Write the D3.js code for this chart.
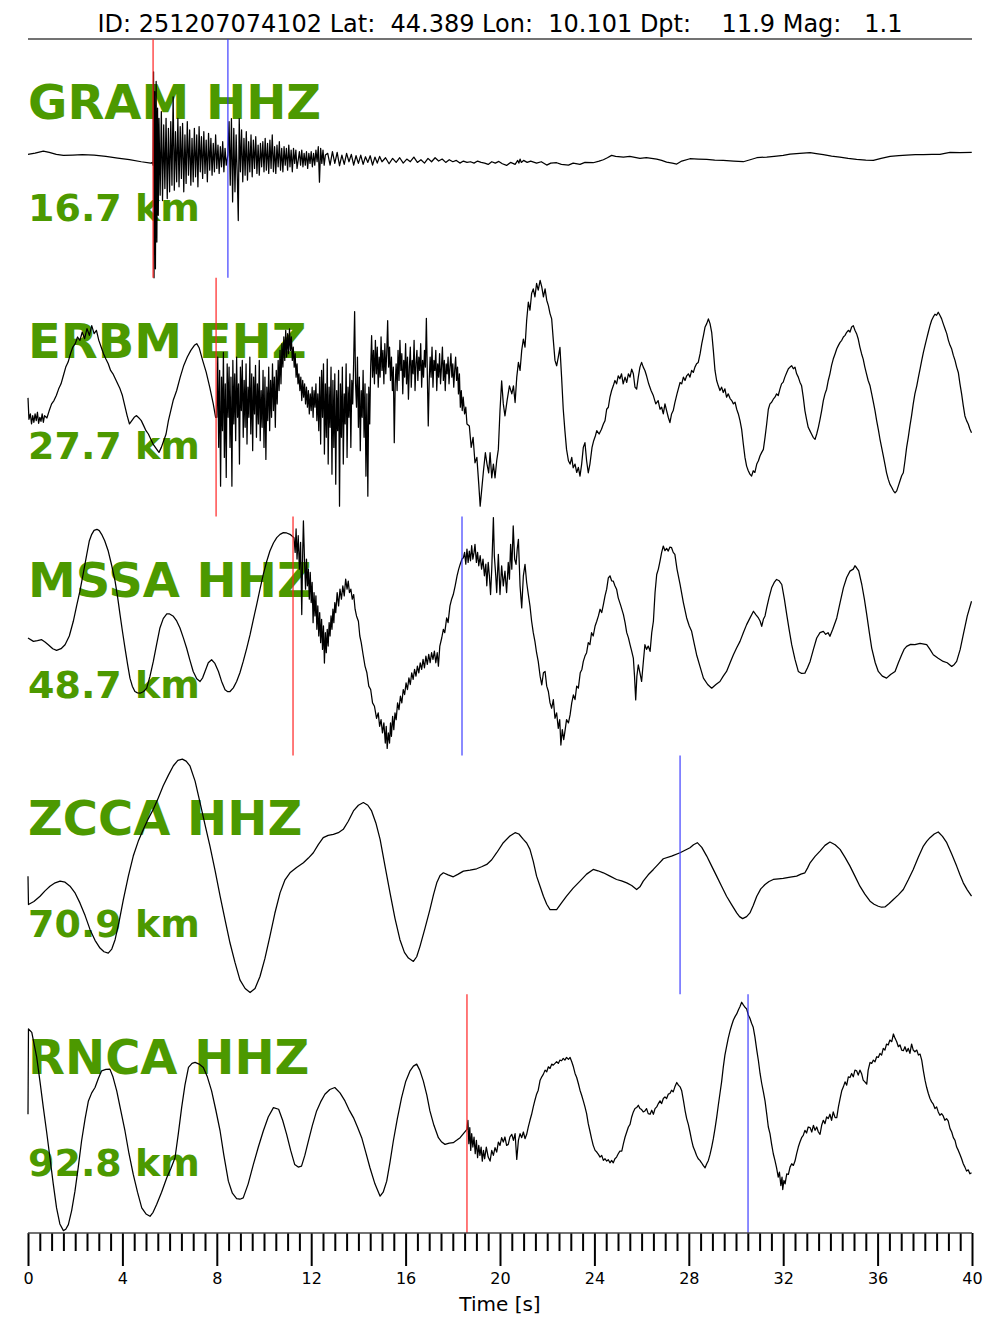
<!DOCTYPE html>
<html><head><meta charset="utf-8">
<script src="https://cdn.jsdelivr.net/npm/d3@7"></script>
<style>
body{margin:0;background:#fff}
svg text{font-family:"DejaVu Sans",sans-serif}
</style>
</head><body>
<svg id="c" width="1000" height="1333"></svg>
<script>
const title = "ID: 251207074102 Lat:  44.389 Lon:  10.101 Dpt:    11.9 Mag:   1.1";
const stations = ["GRAM HHZ","ERBM EHZ","MSSA HHZ","ZCCA HHZ","RNCA HHZ"];
const distances = ["16.7 km","27.7 km","48.7 km","70.9 km","92.8 km"];
const pPicks = [5.30, 7.97, 11.23, null, 18.60];
const sPicks = [8.47, null, 18.39, 27.63, 30.51];
const majorTicks = [0,4,8,12,16,20,24,28,32,36,40];
const xLabel = "Time [s]";

// traces: [time (s), amplitude (normalised counts)]
const gram = [[0,12],[0.3,16],[0.65,22],[0.9,18],[1.2,12],[1.5,9],[1.9,10],[2.3,11],[2.8,10],[3.3,6],[3.8,1],[4.3,-4],[4.8,-10],[5.2,-14],[5.28,-12],
[5.30,-20],[5.32,259],[5.34,-357],[5.37,200],[5.40,-330],[5.43,230],[5.46,-250],[5.49,150],[5.52,-170],
[5.55,120],[5.60,-110],[5.65,140],[5.70,-126],[5.75,100],[5.80,-90],[5.85,120],[5.90,-120],[5.95,90],[6.00,-100],[6.05,110],[6.10,-80],[6.15,184],[6.20,-95],[6.25,80],[6.30,-70],[6.35,120],[6.40,-85],[6.45,95],[6.50,-60],[6.55,105],[6.60,-100],[6.65,70],[6.70,-75],[6.75,110],[6.80,-50],[6.85,85],[6.90,-80],[6.95,60],[7.00,-70],[7.05,90],[7.10,-55],[7.15,70],[7.20,-85],[7.25,95],[7.30,-40],[7.35,65],[7.40,-60],[7.45,80],[7.50,-45],[7.55,55],[7.60,-70],[7.65,75],[7.70,-35],[7.75,60],[7.80,-50],[7.85,45],[7.90,-40],[7.95,70],[8.00,-30],[8.05,40],[8.10,-45],[8.15,35],[8.20,-25],[8.25,50],[8.30,-40],[8.35,30],[8.40,-20],
[8.47,10],[8.52,110],[8.57,-80],[8.62,119],[8.67,-130],[8.72,90],[8.77,-100],[8.82,70],[8.87,-60],[8.91,-186],[8.95,119],[9.00,-40],[9.05,85],[9.10,-70],[9.15,60],[9.20,-50],[9.25,80],[9.30,-65],[9.35,50],[9.40,-40],[9.45,70],[9.50,-55],[9.55,55],[9.60,-30],[9.65,65],[9.70,-45],[9.75,40],[9.80,-50],[9.85,45],[9.90,-25],[9.95,50],[10.0,-40],
[10.05,60],[10.1,-35],[10.15,45],[10.2,-45],[10.25,55],[10.3,-30],[10.35,70],[10.4,-40],[10.45,35],[10.5,-45],[10.55,40],[10.6,-25],[10.65,50],[10.7,-35],[10.75,30],[10.8,-40],[10.85,35],[10.9,-20],[10.95,30],[11.0,-35],[11.05,40],[11.1,-25],[11.15,25],[11.2,-40],[11.25,30],[11.3,-15],[11.35,25],[11.4,-30],[11.5,20],[11.55,-20],[11.6,25],[11.65,-25],[11.7,15],[11.75,-20],[11.8,20],[11.85,-30],[11.9,15],[11.95,-15],[12.0,20],[12.05,-25],[12.1,15],[12.15,-20],[12.2,25],[12.25,-10],[12.3,35],[12.35,-71],[12.4,30],[12.45,-15],[12.5,25],[12.55,-20],[12.6,10],
[12.7,15],[12.8,-20],[12.9,20],[13.0,-15],[13.1,18],[13.2,-22],[13.3,10],[13.4,-18],[13.5,15],[13.6,-10],[13.7,12],[13.8,-20],[13.9,8],[14.0,-15],[14.1,10],[14.2,-18],[14.3,5],[14.4,-12],[14.5,8],[14.6,-20],[14.7,4],[14.8,-14],[14.9,6],[15.0,-10],[15.15,2],[15.3,-16],[15.45,0],[15.6,-12],[15.75,2],[15.9,-14],[16.05,-2],[16.2,-10],[16.35,4],[16.5,-12],[16.65,-4],[16.8,-14],[16.95,0],[17.1,-10],[17.25,2],[17.4,-8],[17.55,-2],[17.7,-12],[17.85,-4],[18.0,-10],[18.15,-6],[18.3,-14],[18.45,-8],[18.6,-12],[18.75,-10],[18.9,-14],[19.05,-8],[19.2,-12],[19.35,-14],[19.5,-18],[19.65,-10],
[19.8,-14],[19.95,-9],[20.1,-16],[20.28,-21],[20.45,-12],[20.64,-18],[20.75,-6],[20.8,-14],[20.85,-2],[20.9,-12],[21.0,-6],[21.15,-12],[21.3,-8],[21.55,-14],[21.75,-10],[21.98,-20],[22.15,-14],[22.4,-13],[22.6,-18],[22.9,-20],[23.1,-14],[23.39,-18],[23.6,-12],[23.95,-13],[24.2,-8],[24.38,-4],[24.55,2],[24.73,9],[24.9,6],[25.23,4],[25.5,6],[25.93,0],[26.2,2],[26.64,-2],[26.85,-6],[27.06,-11],[27.3,-14],[27.49,-17],[27.7,-8],[28.05,-1],[28.4,-2],[28.76,-3],[29.1,-5],[29.46,-6],[29.9,-8],[30.31,-10],[30.6,-4],[30.88,2],[31.3,4],[31.72,7],[32.0,9],[32.29,13],[32.7,15],[33.14,17],[33.4,14],[33.7,11],[34.05,7],[34.4,4],[34.75,0],[35.11,-3],[35.5,-5],[35.82,-6],[36.15,0],[36.53,6],[36.9,8],[37.23,10],[37.6,11],[37.94,11],[38.3,12],[38.64,12],[38.85,15],[39.07,18],[39.5,17],[39.99,18]];

const erbm = [[0,-2],[0.04,-66],[0.1,-50],[0.15,-80],[0.2,-55],[0.25,-75],[0.3,-50],[0.35,-70],[0.4,-45],[0.45,-78],[0.5,-60],[0.55,-72],[0.6,-50],[0.65,-75],[0.7,-55],[0.8,-62],[0.9,-40],[1.0,-20],[1.1,-10],[1.2,5],[1.3,25],[1.4,40],[1.5,65],[1.6,90],[1.7,105],[1.8,130],[1.9,150],[2.0,160],[2.1,180],[2.2,170],[2.3,195],[2.4,175],[2.5,205],[2.6,185],[2.7,214],[2.8,190],[2.9,200],[3.0,170],[3.1,150],[3.2,130],[3.3,114],[3.4,100],[3.5,80],[3.6,70],[3.7,55],[3.8,40],[3.9,25],[4.0,5],[4.1,-25],[4.2,-55],[4.3,-80],[4.4,-70],[4.5,-60],[4.6,-55],[4.7,-62],[4.8,-70],[4.9,-85],[5.0,-100],[5.1,-110],[5.2,-125],[5.3,-140],[5.45,-155],[5.55,-165],[5.65,-150],[5.75,-130],[5.85,-110],[5.95,-70],[6.05,-40],[6.15,-10],[6.3,20],[6.45,60],[6.6,95],[6.75,120],[6.9,140],[7.05,155],[7.15,160],[7.25,148],[7.4,110],[7.55,75],[7.7,30],[7.85,-20],[7.95,-60],
[8.00,-60],[8.04,120],[8.08,-150],[8.12,80],[8.16,-266],[8.20,60],[8.24,-100],[8.28,134],[8.32,-180],[8.36,40],[8.40,-240],[8.44,100],[8.48,-60],[8.52,90],[8.56,-150],[8.60,60],[8.64,-266],[8.68,110],[8.72,-80],[8.76,70],[8.80,-130],[8.84,120],[8.88,-60],[8.92,40],[8.96,-200],[9.00,90],[9.04,-40],[9.08,110],[9.12,-120],[9.16,50],[9.20,-90],[9.24,100],[9.28,-140],[9.32,30],[9.36,-60],[9.40,120],[9.44,-110],[9.48,70],[9.52,-160],[9.56,60],[9.60,-50],[9.64,95],[9.68,-120],[9.72,40],[9.76,-80],[9.80,110],[9.84,-130],[9.88,20],[9.92,-90],[9.96,80],[10.00,-150],[10.04,60],[10.08,-186],[10.12,30],[10.16,-70],[10.20,90],[10.24,-100],[10.28,50],[10.32,-60],[10.36,100],[10.40,-40],[10.44,60],[10.48,-90],[10.52,80],[10.56,-20],[10.60,110],[10.64,20],[10.68,140],[10.72,40],[10.76,160],[10.80,90],[10.84,180],[10.88,110],[10.92,200],[10.96,120],[11.00,190],[11.04,130],[11.08,204],[11.12,140],[11.16,180],[11.20,110],[11.24,150],[11.28,90],[11.32,130],[11.36,60],[11.40,100],[11.44,40],[11.48,70],[11.52,20],[11.56,60],[11.60,-10],[11.64,50],[11.68,0],[11.72,40],[11.76,-20],[11.80,30],[11.84,-30],[11.88,20],[11.92,-50],[11.96,10],[12.00,-40],[12.04,30],[12.08,-60],[12.12,20],[12.16,-30],[12.20,40],[12.24,-70],[12.28,10],[12.32,-100],[12.36,60],[12.40,-140],[12.44,80],[12.48,-60],[12.52,100],[12.56,-170],[12.60,40],[12.64,-120],[12.68,114],[12.72,-200],[12.76,30],[12.80,-90],[12.84,90],[12.88,-230],[12.92,50],[12.96,-150],[13.00,70],[13.04,-260],[13.08,20],[13.12,-100],[13.16,80],[13.20,-326],[13.24,40],[13.28,-120],[13.32,90],[13.36,-200],[13.40,10],[13.44,-80],[13.48,100],[13.52,-180],[13.56,30],[13.60,-60],[13.64,70],[13.68,-150],[13.72,50],[13.76,-20],[13.80,110],[13.84,256],[13.88,40],[13.92,-30],[13.96,120],[14.00,-90],[14.04,60],[14.08,-160],[14.12,20],[14.16,-60],[14.20,80],[14.24,-120],[14.28,40],[14.32,-236],[14.36,10],[14.40,-296],[14.44,30],[14.48,-80],[14.52,90],[14.56,184],[14.60,60],[14.64,140],[14.68,40],[14.72,170],[14.76,70],[14.80,150],[14.84,30],[14.88,120],[14.92,60],[14.96,180],[15.00,80],[15.04,140],[15.08,40],[15.12,160],[15.16,70],[15.20,130],[15.24,229],[15.28,90],[15.32,150],[15.36,50],[15.40,120],[15.44,20],[15.48,90],[15.52,-136],[15.56,40],[15.60,100],[15.64,20],[15.68,140],[15.72,50],[15.76,170],[15.80,80],[15.84,130],[15.88,10],[15.92,110],[15.96,60],[16.00,160],[16.04,40],[16.08,120],[16.12,-6],[16.16,90],[16.20,150],[16.24,30],[16.28,110],[16.32,70],[16.36,170],[16.40,20],[16.44,100],[16.48,140],[16.52,50],[16.56,120],[16.60,80],[16.64,160],[16.68,30],[16.72,110],[16.76,60],[16.80,140],[16.84,90],[16.88,236],[16.92,70],[16.96,-86],[17.00,50],[17.04,120],[17.08,60],[17.12,150],[17.16,30],[17.20,110],[17.24,80],[17.28,140],[17.32,20],[17.36,100],[17.40,60],[17.44,130],[17.48,40],[17.52,90],[17.56,150],[17.60,50],[17.64,110],[17.68,20],[17.72,100],[17.76,70],[17.80,120],[17.84,40],[17.88,90],[17.92,130],[17.96,60],[18.00,100],[18.04,30],[18.08,80],[18.12,120],[18.16,50],[18.20,90],[18.24,10],[18.28,70],[18.32,-30],[18.36,20],[18.40,-40],[18.44,0],[18.50,-50],[18.55,-30],[18.60,-80],[18.70,-86],[18.78,-150],[18.86,-120],[18.94,-196],[19.02,-180],[19.10,-260],[19.16,-326],[19.22,-280],[19.30,-220],[19.38,-166],[19.45,-200],[19.52,-226],[19.58,-166],[19.65,-241],[19.72,-200],[19.79,-241],[19.86,-190],[19.93,-156],[20.00,-40],[20.07,49],[20.14,-20],[20.21,-56],[20.30,-10],[20.40,34],[20.50,10],[20.57,34],[20.64,-16],[20.71,60],
[20.78,104],[20.85,80],[20.92,140],[20.99,174],[21.06,150],[21.13,230],[21.2,284],[21.27,260],[21.34,310],[21.41,324],[21.48,300],[21.55,340],[21.62,320],[21.7,349],[21.77,330],[21.84,300],[21.91,324],[21.98,290],[22.05,274],[22.12,250],[22.19,234],[22.26,170],[22.33,110],[22.4,94],[22.47,120],[22.54,149],[22.61,60],[22.68,-36],[22.75,-100],[22.82,-156],[22.9,-190],[22.97,-200],[23.04,-180],[23.1,-211],[23.18,-200],[23.25,-225],[23.32,-210],[23.39,-236],[23.46,-200],[23.53,-150],[23.6,-136],[23.67,-190],[23.74,-226],[23.81,-200],[23.9,-150],[23.97,-130],[24.04,-116],[24.1,-100],[24.2,-110],[24.3,-96],[24.38,-80],[24.45,-70],[24.52,-36],[24.59,-30],[24.66,0],[24.73,20],[24.8,34],[24.87,50],[24.94,40],[25.01,64],[25.08,55],[25.15,70],[25.22,40],[25.3,60],[25.37,44],[25.44,70],[25.51,60],[25.58,84],[25.65,70],[25.72,30],[25.79,24],[25.86,60],[25.93,90],[26.0,104],[26.07,90],[26.14,80],[26.21,64],[26.3,40],[26.4,20],[26.5,4],[26.6,-20],[26.7,-10],[26.78,-36],[26.85,-30],[26.92,-50],[26.99,-20],[27.06,-40],[27.13,-60],[27.2,-76],[27.27,-50],[27.34,-40],[27.41,-16],[27.5,10],[27.63,44],[27.7,40],[27.77,60],[27.84,50],[27.91,64],[27.98,70],[28.05,60],[28.12,80],[28.19,74],[28.26,90],[28.33,100],[28.4,104],[28.48,130],[28.55,160],[28.62,184],[28.69,210],[28.76,220],[28.83,234],[28.9,220],[28.97,194],[29.04,140],[29.11,80],[29.18,50],[29.25,34],[29.32,20],[29.39,30],[29.46,14],[29.53,25],[29.6,0],[29.67,10],[29.75,-4],[29.82,-10],[29.89,-20],[29.96,-15],[30.03,-36],[30.1,-50],[30.17,-70],[30.24,-96],[30.31,-140],[30.38,-180],[30.45,-206],[30.52,-220],[30.59,-230],[30.66,-236],[30.73,-220],[30.8,-225],[30.88,-200],[30.95,-190],[31.02,-175],[31.09,-165],[31.16,-156],[31.23,-120],[31.3,-80],[31.37,-36],[31.44,-20],[31.51,-15],[31.58,-6],[31.65,0],[31.72,10],[31.79,5],[31.86,24],[31.93,40],[32.0,45],[32.07,60],[32.15,74],[32.22,85],[32.29,90],[32.36,94],[32.43,85],[32.5,90],[32.57,70],[32.64,60],[32.71,45],[32.78,34],[32.85,0],[32.92,-40],[32.99,-66],[33.06,-90],[33.13,-100],[33.2,-110],[33.27,-120],[33.35,-126],[33.42,-110],[33.49,-90],[33.56,-66],[33.63,-40],[33.7,-10],[33.77,10],[33.84,24],[33.91,50],[33.98,70],[34.05,95],[34.12,114],[34.2,130],[34.27,145],[34.34,155],[34.41,164],[34.48,170],[34.55,180],[34.62,185],[34.69,194],[34.76,200],[34.83,195],[34.9,210],[34.97,214],[35.04,200],[35.11,190],[35.18,174],[35.25,150],[35.32,130],[35.39,114],[35.46,90],[35.53,70],[35.6,50],[35.68,34],[35.75,10],[35.82,-15],[35.89,-40],[35.96,-70],[36.03,-96],[36.1,-125],[36.17,-150],[36.24,-175],[36.31,-200],[36.38,-226],[36.45,-245],[36.52,-260],[36.6,-270],[36.67,-280],[36.74,-286],[36.81,-280],[36.88,-265],[36.95,-250],[37.02,-235],[37.09,-226],[37.16,-190],[37.23,-150],[37.3,-120],[37.37,-86],[37.44,-55],[37.51,-20],[37.58,10],[37.66,34],[37.73,60],[37.8,85],[37.87,110],[37.94,134],[38.01,155],[38.08,175],[38.15,195],[38.22,214],[38.29,230],[38.36,240],[38.43,248],[38.5,245],[38.57,254],[38.64,245],[38.71,235],[38.78,220],[38.86,204],[38.93,190],[39.0,170],[39.07,155],[39.14,144],[39.21,125],[39.28,110],[39.35,90],[39.42,74],[39.49,40],[39.56,10],[39.63,-25],[39.7,-56],[39.77,-70],[39.84,-80],[39.91,-95],[39.98,-106]];

const mssa = [[0,-6],[0.23,-16],[0.4,-14],[0.58,-11],[0.72,-18],[0.86,-26],[1.05,-38],[1.21,-43],[1.4,-38],[1.57,-26],[1.75,0],[1.92,44],[2.06,90],[2.2,134],[2.35,190],[2.49,244],[2.6,285],[2.7,304],[2.8,316],[2.92,319],[3.02,315],[3.12,304],[3.25,285],[3.4,254],[3.55,210],[3.69,164],[3.8,115],[3.9,64],[4.0,15],[4.11,-36],[4.22,-85],[4.32,-126],[4.42,-150],[4.53,-166],[4.64,-170],[4.75,-171],[4.9,-166],[5.03,-156],[5.17,-120],[5.31,-76],[5.45,-25],[5.59,24],[5.73,52],[5.88,66],[6.0,66],[6.16,59],[6.3,45],[6.44,24],[6.58,-5],[6.72,-36],[6.86,-72],[7.0,-106],[7.15,-128],[7.29,-136],[7.4,-125],[7.5,-106],[7.64,-80],[7.78,-71],[7.92,-82],[8.07,-106],[8.2,-135],[8.35,-161],[8.45,-166],[8.56,-166],[8.7,-155],[8.84,-136],[8.98,-110],[9.12,-76],[9.27,-36],[9.41,4],[9.55,50],[9.69,94],[9.83,140],[9.97,184],[10.11,222],[10.25,254],[10.4,278],[10.54,294],[10.68,304],[10.82,309],[10.96,308],[11.1,304],[11.2,298],
[11.27,294],[11.32,250],[11.36,320],[11.40,230],[11.45,300],[11.50,200],[11.55,280],[11.60,64],[11.64,250],[11.67,344],[11.72,220],[11.76,140],[11.80,230],[11.84,150],[11.88,200],[11.92,110],[11.96,190],[12.00,100],[12.04,160],[12.08,40],[12.12,130],[12.16,60],[12.20,120],[12.24,20],[12.28,90],[12.32,0],[12.36,70],[12.40,-20],[12.44,50],[12.48,-40],[12.52,30],[12.56,-81],[12.60,10],[12.64,-50],[12.68,20],[12.72,-30],[12.76,40],[12.80,0],[12.84,60],[12.88,20],[12.92,80],[12.96,40],[13.00,100],[13.04,70],[13.10,130],[13.16,90],[13.22,140],[13.28,110],[13.34,150],[13.40,120],[13.46,170],[13.52,140],[13.57,164],[13.62,130],[13.68,140],[13.74,110],[13.80,124],[13.86,80],[13.92,60],[14.00,44],[14.06,0],[14.12,-20],[14.20,-56],[14.28,-90],[14.36,-110],[14.44,-150],[14.52,-160],[14.60,-200],[14.68,-210],[14.77,-246],[14.84,-230],[14.90,-270],[14.96,-250],[15.02,-290],[15.08,-260],[15.14,-320],[15.18,-270],[15.22,-336],[15.27,-290],[15.32,-320],[15.36,-260],[15.40,-300],[15.45,-240],[15.50,-280],[15.55,-230],[15.60,-250],[15.66,-200],[15.72,-220],[15.78,-180],[15.84,-200],[15.90,-160],[15.96,-175],[16.02,-140],[16.08,-160],[16.14,-125],[16.20,-145],[16.26,-110],[16.32,-130],[16.38,-100],[16.44,-120],[16.50,-90],[16.56,-110],[16.62,-80],[16.68,-100],[16.74,-70],[16.80,-95],[16.86,-60],[16.92,-85],[16.98,-55],[17.04,-80],[17.10,-50],[17.16,-70],[17.22,-45],[17.28,-80],[17.34,-50],[17.39,-90],[17.45,-30],[17.53,-6],[17.60,20],[17.66,10],[17.74,54],[17.80,40],[17.88,90],[17.95,110],[18.02,124],[18.10,150],[18.18,180],[18.25,200],[18.31,214],[18.39,230],[18.45,234],[18.50,250],[18.55,215],[18.60,260],[18.65,220],[18.70,254],[18.75,225],[18.80,270],[18.85,230],[18.90,250],[18.94,274],[19.00,220],[19.05,250],[19.10,210],[19.16,240],[19.22,200],[19.28,230],[19.34,180],[19.40,215],[19.44,150],[19.50,220],[19.55,180],[19.60,124],[19.65,200],[19.72,354],[19.76,240],[19.82,180],[19.86,130],[19.93,244],[20.00,124],[20.07,210],[20.14,150],[20.21,194],[20.28,130],[20.35,220],[20.40,170],[20.45,274],[20.50,200],[20.56,329],[20.62,230],[20.68,214],[20.73,260],[20.78,289],[20.85,150],[20.92,84],[20.99,180],[21.06,214],[21.13,160],[21.20,124],[21.27,90],[21.34,44],[21.41,10],[21.48,-16],[21.55,-50],[21.62,-76],[21.70,-120],[21.77,-146],[21.84,-110],[21.91,-106],[21.98,-150],[22.05,-166],[22.12,-200],[22.19,-216],[22.26,-190],[22.33,-246],[22.40,-230],[22.47,-276],[22.53,-250],[22.58,-326],[22.64,-280],[22.70,-310],[22.75,-286],[22.82,-250],[22.90,-260],[22.97,-236],[23.04,-200],[23.11,-176],[23.18,-190],[23.25,-150],[23.32,-156],[23.40,-110],[23.47,-100],[23.53,-76],[23.60,-60],[23.67,-50],[23.74,-20],[23.81,-26],[23.88,10],[23.95,0],[24.03,30],[24.10,44],[24.17,60],[24.24,80],[24.31,70],[24.38,94],[24.45,120],[24.52,140],[24.59,174],[24.66,180],[24.73,165],[24.80,164],[24.87,150],[24.94,140],
[25.01,114],[25.12,90],[25.23,64],[25.3,40],[25.37,10],[25.44,-5],[25.51,-26],[25.58,-45],[25.65,-66],[25.7,-120],[25.75,-191],[25.8,-120],[25.86,-86],[25.93,-110],[26.0,-136],[26.07,-80],[26.14,-26],[26.21,-40],[26.28,-30],[26.36,-46],[26.43,10],[26.5,44],[26.57,130],[26.64,184],[26.71,200],[26.78,224],[26.85,250],[26.92,269],[26.99,255],[27.06,262],[27.13,254],[27.2,266],[27.27,264],[27.34,250],[27.41,244],[27.5,200],[27.63,154],[27.77,100],[27.91,54],[28.02,30],[28.12,14],[28.22,-20],[28.33,-56],[28.47,-90],[28.62,-126],[28.8,-145],[28.97,-156],[29.15,-145],[29.32,-136],[29.46,-120],[29.6,-106],[29.75,-80],[29.89,-56],[30.03,-35],[30.17,-16],[30.31,10],[30.45,34],[30.6,55],[30.74,74],[30.84,64],[30.95,54],[31.02,45],[31.09,29],[31.16,50],[31.23,60],[31.3,84],[31.4,115],[31.51,144],[31.62,160],[31.72,169],[31.83,165],[31.94,154],[32.05,110],[32.15,64],[32.25,20],[32.36,-26],[32.5,-70],[32.64,-106],[32.78,-112],[32.92,-111],[33.03,-95],[33.14,-76],[33.28,-40],[33.42,-6],[33.56,10],[33.7,14],[33.8,5],[33.9,10],[33.98,-1],[34.1,20],[34.27,54],[34.41,100],[34.55,144],[34.69,175],[34.83,194],[34.97,200],[35.04,210],[35.11,204],[35.2,195],[35.33,154],[35.44,110],[35.54,64],[35.65,10],[35.75,-36],[35.9,-80],[36.03,-106],[36.2,-120],[36.38,-126],[36.55,-115],[36.74,-106],[36.88,-80],[37.02,-56],[37.12,-40],[37.23,-31],[37.4,-25],[37.58,-26],[37.8,-22],[38.08,-26],[38.22,-40],[38.36,-56],[38.55,-66],[38.78,-76],[38.95,-80],[39.14,-91],[39.25,-85],[39.35,-76],[39.5,-40],[39.63,4],[39.8,60],[39.98,104]];

const zcca = [[0,-4],[0.02,-89],[0.25,-80],[0.51,-64],[0.72,-48],[0.93,-34],[1.15,-24],[1.36,-19],[1.57,-22],[1.78,-34],[2.0,-55],[2.2,-84],[2.42,-122],[2.63,-164],[2.84,-196],[3.05,-219],[3.22,-230],[3.4,-234],[3.55,-222],[3.69,-194],[3.86,-140],[4.04,-74],[4.25,-5],[4.46,56],[4.67,100],[4.89,136],[5.1,168],[5.31,196],[5.52,230],[5.73,266],[5.95,298],[6.16,326],[6.35,342],[6.54,346],[6.7,340],[6.86,326],[7.08,280],[7.29,216],[7.5,150],[7.71,86],[7.93,12],[8.14,-64],[8.35,-135],[8.56,-204],[8.77,-262],[8.98,-314],[9.2,-340],[9.41,-352],[9.62,-340],[9.83,-304],[10.04,-250],[10.25,-184],[10.46,-115],[10.68,-54],[10.89,-15],[11.1,6],[11.38,22],[11.67,36],[11.88,50],[12.09,66],[12.3,90],[12.51,111],[12.72,118],[12.94,121],[13.15,126],[13.36,136],[13.57,160],[13.79,191],[14.0,208],[14.21,216],[14.4,208],[14.56,191],[14.74,155],[14.92,106],[15.13,25],[15.34,-54],[15.55,-130],[15.76,-194],[15.95,-232],[16.12,-249],[16.33,-259],[16.47,-245],[16.61,-214],[16.82,-160],[17.03,-104],[17.18,-60],[17.32,-24],[17.46,-2],[17.6,6],[17.8,0],[18.02,-6],[18.23,2],[18.45,11],[18.73,14],[19.01,18],[19.22,24],[19.44,31],[19.65,45],[19.86,66],[20.14,96],[20.42,116],[20.64,126],[20.8,122],[20.99,106],[21.13,95],[21.27,76],[21.41,40],[21.55,-4],[21.7,-35],[21.84,-64],[21.98,-88],[22.12,-104],[22.26,-104],[22.4,-104],[22.6,-85],[22.82,-64],[23.1,-40],[23.39,-19],[23.67,2],[23.95,16],[24.15,12],[24.38,6],[24.66,-4],[24.94,-14],[25.15,-18],[25.37,-24],[25.58,-32],[25.79,-44],[25.93,-36],[26.07,-19],[26.28,0],[26.5,16],[26.71,32],[26.92,48],[27.27,56],[27.63,66],[28.05,81],[28.2,90],[28.36,96],[28.55,82],[28.76,56],[28.97,26],[29.18,-4],[29.39,-34],[29.6,-64],[29.82,-90],[30.03,-114],[30.15,-125],[30.28,-131],[30.45,-125],[30.59,-114],[30.73,-92],[30.88,-64],[31.05,-42],[31.23,-29],[31.4,-20],[31.58,-14],[31.8,-12],[32.0,-11],[32.3,-7],[32.57,-4],[32.75,2],[32.92,6],[33.03,20],[33.14,36],[33.35,55],[33.56,71],[33.77,88],[33.98,98],[34.2,90],[34.41,76],[34.62,52],[34.83,26],[35.04,-4],[35.25,-34],[35.46,-58],[35.68,-79],[35.85,-88],[36.03,-94],[36.17,-97],[36.31,-96],[36.49,-86],[36.67,-74],[36.88,-60],[37.09,-44],[37.3,-15],[37.51,16],[37.72,52],[37.94,86],[38.08,100],[38.22,111],[38.4,122],[38.57,128],[38.75,115],[38.93,96],[39.14,62],[39.35,26],[39.49,0],[39.63,-24],[39.8,-45],[39.98,-64]];

const rnca = [[0,-2],[0.02,253],[0.16,243],[0.37,168],[0.51,95],[0.65,18],[0.79,-55],[0.93,-132],[1.07,-210],[1.21,-282],[1.35,-330],[1.5,-350],[1.6,-346],[1.71,-332],[1.85,-290],[1.99,-232],[2.13,-160],[2.27,-82],[2.42,-15],[2.56,38],[2.7,62],[2.84,78],[2.98,105],[3.12,128],[3.3,132],[3.47,133],[3.6,110],[3.76,68],[3.93,10],[4.11,-52],[4.28,-120],[4.46,-182],[4.64,-235],[4.82,-282],[5.0,-300],[5.17,-307],[5.3,-295],[5.45,-272],[5.66,-235],[5.88,-192],[6.05,-165],[6.23,-132],[6.37,-60],[6.51,18],[6.65,85],[6.8,138],[6.95,150],[7.08,153],[7.25,148],[7.43,138],[7.6,110],[7.78,68],[7.96,10],[8.14,-52],[8.3,-125],[8.49,-202],[8.66,-238],[8.84,-254],[8.98,-256],[9.12,-252],[9.33,-210],[9.55,-152],[9.76,-100],[9.97,-52],[10.18,-10],[10.4,18],[10.62,13],[10.79,-20],[10.96,-62],[11.13,-110],[11.3,-152],[11.45,-160],[11.59,-157],[11.73,-125],[11.88,-82],[12.05,-35],[12.23,8],[12.4,35],[12.58,58],[12.79,72],[13.0,78],[13.22,62],[13.43,38],[13.6,12],[13.79,-12],[13.96,-40],[14.14,-72],[14.31,-115],[14.49,-162],[14.7,-210],[14.92,-247],[15.05,-235],[15.2,-202],[15.34,-145],[15.48,-82],[15.65,-15],[15.83,48],[16.0,95],[16.19,128],[16.33,142],[16.47,148],[16.6,130],[16.75,98],[16.9,55],[17.03,8],[17.2,-35],[17.39,-72],[17.53,-85],[17.67,-92],[17.85,-88],[18.02,-87],[18.16,-80],[18.31,-72],[18.45,-60],
[18.6,-47],[18.64,-20],[18.68,-90],[18.72,-42],[18.76,-110],[18.8,-60],[18.85,-100],[18.9,-70],[18.95,-120],[19.0,-80],[19.05,-132],[19.1,-95],[19.15,-125],[19.2,-100],[19.25,-142],[19.3,-110],[19.35,-135],[19.42,-100],[19.5,-130],[19.58,-142],[19.65,-110],[19.72,-125],[19.79,-102],[19.86,-115],[19.93,-85],[20.0,-95],[20.07,-72],[20.14,-85],[20.21,-70],[20.28,-95],[20.35,-92],[20.42,-70],[20.5,-62],[20.57,-80],[20.64,-60],[20.71,-137],[20.78,-80],[20.85,-60],[20.92,-72],[20.99,-55],[21.06,-75],[21.13,-62],[21.2,-40],[21.27,-20],[21.34,-2],[21.41,20],[21.48,40],[21.55,58],[21.62,70],[21.7,100],[21.77,110],[21.84,118],[21.91,130],[21.98,125],[22.05,140],[22.12,135],[22.19,148],[22.26,145],[22.33,150],[22.4,155],[22.47,150],[22.54,160],[22.61,158],[22.68,165],[22.75,160],[22.82,168],[22.9,162],[22.97,168],[23.04,155],[23.11,140],[23.18,120],[23.25,108],[23.32,90],[23.39,70],[23.46,55],[23.53,38],[23.6,20],[23.67,0],[23.74,-30],[23.81,-52],[23.88,-75],[23.95,-95],[24.03,-110],[24.1,-115],[24.17,-122],[24.24,-130],[24.31,-125],[24.38,-140],[24.45,-135],[24.52,-142],[24.59,-138],[24.66,-147],[24.73,-140],[24.8,-147],[24.87,-135],[24.94,-130],[25.01,-120],[25.08,-112],[25.16,-112],[25.23,-90],[25.3,-70],[25.37,-55],[25.44,-40],[25.51,-32],[25.58,-10],[25.65,5],[25.72,15],[25.79,18],[25.86,25],[25.93,15],[26.0,12],[26.07,5],[26.14,8],[26.21,15],[26.28,0],[26.36,-2],[26.43,10],[26.5,-2],[26.57,15],[26.64,20],[26.71,30],[26.78,38],[26.85,30],[26.92,45],[26.99,50],[27.06,45],[27.13,58],[27.2,60],[27.27,70],[27.34,65],[27.41,80],[27.49,93],[27.56,85],[27.63,80],[27.7,68],[27.77,40],[27.84,10],[27.91,-15],[27.98,-32],[28.05,-55],[28.12,-80],[28.19,-100],[28.26,-112],[28.33,-125],[28.4,-135],[28.47,-140],[28.54,-147],[28.61,-155],[28.69,-162],[28.76,-150],[28.83,-140],[28.9,-122],[28.97,-100],[29.04,-75],[29.11,-45],[29.18,-12],[29.25,25],[29.32,60],[29.39,95],[29.46,138],[29.53,175],[29.6,200],[29.67,225],[29.75,248],[29.82,265],[29.89,280],[29.96,290],[30.03,298],[30.1,310],[30.17,320],[30.24,333],[30.31,325],[30.38,318],[30.45,313],[30.52,295],[30.59,285],[30.66,270],[30.73,258],[30.8,230],[30.88,190],[30.95,158],[31.02,120],[31.09,90],[31.16,65],[31.23,38],[31.3,0],[31.37,-40],[31.44,-60],[31.51,-92],[31.58,-120],[31.65,-140],[31.72,-162],[31.79,-190],[31.84,-175],[31.9,-215],[31.95,-190],[31.98,-227],[32.03,-200],[32.08,-210],[32.15,-180],[32.22,-182],[32.29,-160],[32.36,-150],[32.43,-155],[32.5,-142],[32.57,-120],[32.64,-100],[32.71,-85],[32.78,-72],[32.85,-65],[32.92,-50],[32.99,-58],[33.06,-40],[33.14,-42],[33.21,-55],[33.28,-35],[33.35,-50],[33.42,-40],[33.49,-55],[33.56,-62],[33.63,-35],[33.7,-20],[33.77,-30],[33.84,-10],[33.91,-15],[33.98,-2],[34.05,-20],[34.12,5],[34.2,-12],[34.27,-12],[34.34,20],[34.41,45],[34.48,68],[34.55,80],[34.62,95],[34.69,85],[34.76,110],[34.83,108],[34.9,120],[34.97,110],[35.04,130],[35.11,128],[35.18,115],[35.25,130],[35.32,120],[35.39,100],[35.46,95],[35.54,88],[35.6,130],[35.68,153],[35.75,150],[35.82,160],[35.89,155],[35.96,170],[36.03,168],[36.1,180],[36.17,175],[36.24,195],[36.31,190],[36.38,208],[36.45,205],[36.52,220],[36.6,215],[36.67,238],[36.74,225],[36.81,215],[36.88,200],[36.95,205],[37.02,190],[37.09,188],[37.16,200],[37.23,185],[37.3,195],[37.37,180],[37.44,208],[37.51,190],[37.58,185],[37.66,190],[37.73,175],[37.8,178],[37.87,160],[37.94,128],[38.01,100],[38.08,78],[38.15,60],[38.22,45],[38.29,35],[38.36,28],[38.43,15],[38.5,20],[38.57,5],[38.64,-5],[38.71,0],[38.78,-7],[38.85,-20],[38.92,-15],[38.99,-22],[39.07,-45],[39.14,-55],[39.21,-72],[39.28,-80],[39.35,-100],[39.42,-110],[39.49,-122],[39.56,-135],[39.63,-150],[39.7,-160],[39.77,-172],[39.84,-168],[39.91,-180],[39.98,-177]];

const traces = [gram, erbm, mssa, zcca, rnca];
const ampMax = 357;

const svg = d3.select("#c");
const left = 28, right = 972, top0 = 39, panelH = 238.8;
const x = d3.scaleLinear().domain([0, 40]).range([left, right]);
const green = "#4c9900";

// title
svg.append("text").attr("x", 500).attr("y", 31.5).attr("text-anchor", "middle")
  .style("white-space", "pre").attr("font-size", 24).attr("fill", "#000").text(title);
svg.append("line").attr("x1", left).attr("x2", right).attr("y1", top0).attr("y2", top0)
  .attr("stroke", "#444").attr("stroke-width", 1.5);

traces.forEach((tr, i) => {
  const top = top0 + i * panelH;
  const y = d3.scaleLinear().domain([-ampMax, ampMax]).range([top + panelH, top]);
  const g = svg.append("g");
  g.append("text").attr("x", left).attr("y", top + 80).attr("font-size", 48).attr("font-weight", "bold")
    .attr("fill", green).text(stations[i]);
  g.append("text").attr("x", left).attr("y", top + 181.5).attr("font-size", 38).attr("font-weight", "bold")
    .attr("fill", green).text(distances[i]);
  const line = d3.line().x(d => x(d[0])).y(d => y(d[1]));
  g.append("path").datum(tr).attr("d", line).attr("fill", "none").attr("stroke", "#000")
    .attr("stroke-width", 1.25).attr("stroke-linejoin", "round");
  if (pPicks[i] !== null) {
    g.append("line").attr("x1", x(pPicks[i])).attr("x2", x(pPicks[i])).attr("y1", top).attr("y2", top + panelH)
      .attr("stroke", "#ff2020").attr("stroke-opacity", 0.85).attr("stroke-width", 1.4);
  }
  if (sPicks[i] !== null) {
    g.append("line").attr("x1", x(sPicks[i])).attr("x2", x(sPicks[i])).attr("y1", top).attr("y2", top + panelH)
      .attr("stroke", "#3030ff").attr("stroke-opacity", 0.8).attr("stroke-width", 1.4);
  }
});

// x axis
const axisY = top0 + 5 * panelH;
const minor = d3.range(0, 40.001, 0.5).filter(v => majorTicks.indexOf(v) < 0);
const ax = svg.append("g").attr("transform", `translate(0,${axisY})`);
ax.append("g").call(d3.axisBottom(x).tickValues(minor).tickSize(18).tickSizeOuter(0).tickFormat(""))
  .call(s => s.select(".domain").remove())
  .call(s => s.selectAll(".tick line").attr("stroke", "#000").attr("stroke-width", 2));
ax.append("g").call(d3.axisBottom(x).tickValues(majorTicks).tickSize(33).tickSizeOuter(0).tickPadding(7).tickFormat(d3.format("d")))
  .call(s => s.select(".domain").remove())
  .call(s => s.selectAll(".tick line").attr("stroke", "#000").attr("stroke-width", 2))
  .call(s => s.selectAll(".tick text").attr("font-size", 16).attr("font-family", "DejaVu Sans").attr("fill", "#000"));
ax.append("line").attr("x1", left).attr("x2", right).attr("y1", 0).attr("y2", 0)
  .attr("stroke", "#444").attr("stroke-width", 1.5);
svg.append("text").attr("x", 500).attr("y", 1311).attr("text-anchor", "middle").attr("font-size", 20)
  .attr("fill", "#000").text(xLabel);
</script>
</body></html>
